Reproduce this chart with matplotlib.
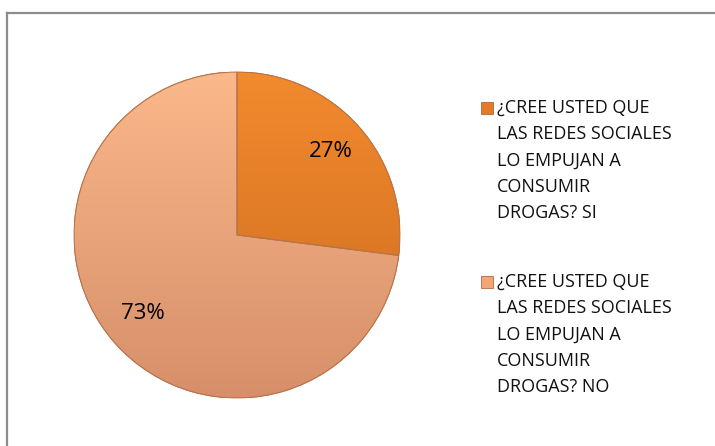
import matplotlib
matplotlib.use("Agg")
import matplotlib.pyplot as plt
import numpy as np
from matplotlib.lines import Line2D
from matplotlib.patches import Rectangle, Wedge
from matplotlib.colors import LinearSegmentedColormap

labels = ["¿CREE USTED QUE\nLAS REDES SOCIALES\nLO EMPUJAN A\nCONSUMIR\nDROGAS? SI",
          "¿CREE USTED QUE\nLAS REDES SOCIALES\nLO EMPUJAN A\nCONSUMIR\nDROGAS? NO"]
values = [27, 73]
pct_labels = ["27%", "73%"]
colors = ["#E57B28", "#F2A678"]
grad_top = ["#F28A2E", "#FBB88A"]
grad_bot = ["#CC6A1E", "#D68F6A"]

plt.rcParams['font.family'] = ['Open Sans', 'DejaVu Sans']

W, H = 715, 446
fig = plt.figure(figsize=(W / 100, H / 100), dpi=100)
fig.patch.set_facecolor("white")

# border lines (top and left visible)
fig.add_artist(Line2D([7 / W, 7 / W], [0, 1 - 13 / H], color="#8C8C8C", lw=1.6))
fig.add_artist(Line2D([7 / W, 1], [1 - 13 / H, 1 - 13 / H], color="#8C8C8C", lw=1.6))

cx, cy, r = 237, 235, 163
ax = fig.add_axes([(cx - r) / W, 1 - (cy + r) / H, 2 * r / W, 2 * r / H])
wedges, _ = ax.pie(values, colors=colors, startangle=90, counterclock=False,
                   radius=1.0, wedgeprops=dict(edgecolor="#B86A40", linewidth=0.6))
ax.set_xlim(-1, 1)
ax.set_ylim(-1, 1)
ax.set_aspect("equal")
ax.axis("off")

# vertical gradient shading on each wedge
for w, ct, cb in zip(wedges, grad_top, grad_bot):
    cmap = LinearSegmentedColormap.from_list("g", [cb, ct])
    grad = np.linspace(0, 1, 256).reshape(-1, 1)
    im = ax.imshow(grad, extent=[-1, 1, -1, 1], origin="lower", cmap=cmap,
                   aspect="auto", zorder=w.get_zorder() + 0.1)
    im.set_clip_path(w)
    outline = Wedge(w.center, w.r, w.theta1, w.theta2, fill=False,
                    edgecolor="#B8744A", lw=0.8, zorder=w.get_zorder() + 0.2)
    ax.add_patch(outline)

# percentage labels
ax.text(0.577, 0.51, pct_labels[0], fontsize=16, ha="center", va="center", zorder=5)
ax.text(-0.58, -0.48, pct_labels[1], fontsize=16, ha="center", va="center", zorder=5)

# legend
for lab, col, ym, ytop in zip(labels, colors, [108, 282], [99, 273]):
    fig.add_artist(Rectangle((481 / W, 1 - (ym + 6) / H), 12 / W, 12 / H,
                             facecolor=col, edgecolor="#A05A2C", lw=0.5,
                             transform=fig.transFigure))
    fig.text(497 / W, 1 - ytop / H, lab, fontsize=13, va="top",
             ha="left", linespacing=1.59, color="#111111")

fig.savefig("out.png", dpi=100, facecolor="white")
